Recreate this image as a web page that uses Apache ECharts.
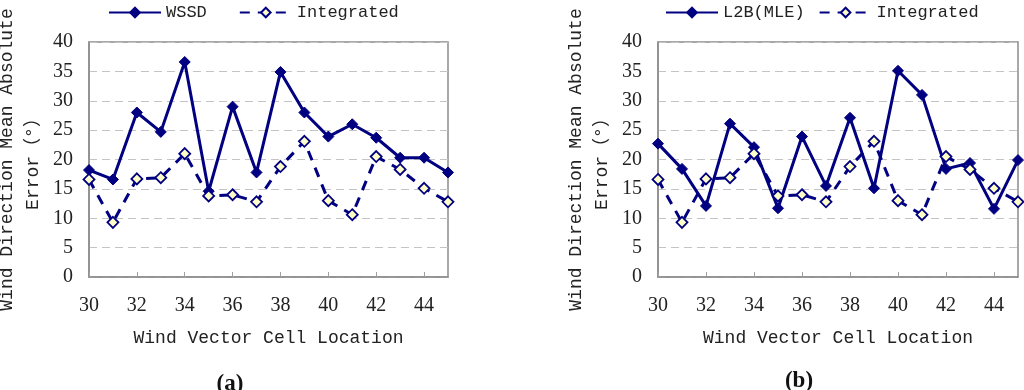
<!DOCTYPE html>
<html>
<head>
<meta charset="utf-8">
<script src="https://cdn.jsdelivr.net/npm/echarts@6/dist/echarts.min.js"></script>
<style>
html,body{margin:0;padding:0;background:#fff;}
#chart{width:1024px;height:390px;}
</style>
</head>
<body>
<div id="chart"></div>
<script>
const cells = ['30','31','32','33','34','35','36','37','38','39','40','41','42','43','44','45'];
const wssd = [18.2,16.6,28.0,24.7,36.6,14.6,29.0,17.8,34.9,28.0,23.9,26.0,23.7,20.3,20.3,17.8];
const integrated = [16.6,9.3,16.7,16.9,21.0,13.8,14.0,12.8,18.8,23.1,13.0,10.6,20.5,18.3,15.1,12.8];
const l2b = [22.7,18.4,12.1,26.1,22.1,11.7,23.9,15.5,27.1,15.1,35.1,31.0,18.4,19.4,11.6,19.9];
const panelLabels = ['(a)','(b)'];
const xName = 'Wind Vector Cell Location';
const yName = 'Wind Direction Mean Absolute\nError（°）';

const NAVY = '#000080';
const MONO = '"Liberation Mono", "Noto Sans CJK SC", monospace';
const SERIF = '"Liberation Serif", serif';

function xAxis(gi){
  return {
    type:'category', gridIndex:gi, data:cells, boundaryGap:false,
    axisLine:{lineStyle:{color:'#8c8c8c', width:1.5}},
    axisTick:{show:true, inside:true, interval:1, length:5, lineStyle:{color:'#a0a0a0'}},
    axisLabel:{interval:1, margin:19, fontFamily:SERIF, fontSize:20, color:'#222'},
    name:xName, nameLocation:'middle', nameGap:52,
    nameTextStyle:{fontFamily:MONO, fontSize:18, color:'#222'}
  };
}
function yAxis(gi){
  return {
    type:'value', gridIndex:gi, min:0, max:40, interval:5,
    axisLine:{show:true, lineStyle:{color:'#8c8c8c', width:1.5}},
    axisTick:{show:false},
    axisLabel:{margin:16, fontFamily:SERIF, fontSize:20, color:'#222'},
    splitLine:{show:true, lineStyle:{color:'#c4c4c4', type:[8,5], width:1}},
    name:yName, nameLocation:'middle', nameRotate:90, nameGap:43,
    nameTextStyle:{fontFamily:MONO, fontSize:18, color:'#222', lineHeight:26, align:'center'}
  };
}
function solid(name, data, gi){
  return {
    name, type:'line', xAxisIndex:gi, yAxisIndex:gi, data,
    symbol:'diamond', symbolSize:11, clip:false,
    lineStyle:{color:NAVY, width:3},
    itemStyle:{color:NAVY, borderColor:NAVY, borderWidth:1},
    z:2
  };
}
function dashed(name, data, gi){
  return {
    name, type:'line', xAxisIndex:gi, yAxisIndex:gi, data,
    symbol:'diamond', symbolSize:11, clip:false, showSymbol:true,
    lineStyle:{color:NAVY, width:3, type:[10,8]},
    itemStyle:{color:'#ffffc8', borderColor:NAVY, borderWidth:1.8},
    z:3
  };
}

const chart = echarts.init(document.getElementById('chart'), null, {renderer:'canvas'});
chart.setOption({
  animation:false,
  backgroundColor:'#fff',
  title:[
    {text:panelLabels[0], left:225, top:368, textAlign:'center',
     textStyle:{fontFamily:SERIF, fontWeight:'bold', fontSize:23, color:'#111'}},
    {text:panelLabels[1], left:794, top:365, textAlign:'center',
     textStyle:{fontFamily:SERIF, fontWeight:'bold', fontSize:23, color:'#111'}}
  ],
  legend:[
    {data:['WSSD','Integrated'], left:103, top:-1, itemWidth:52, itemHeight:12, itemGap:32,
     textStyle:{fontFamily:MONO, fontSize:17, color:'#222'}},
    {data:['L2B(MLE)','Integrated'], left:660, top:-1, itemWidth:52, itemHeight:12, itemGap:14,
     textStyle:{fontFamily:MONO, fontSize:17, color:'#222'}}
  ],
  grid:[
    {left:89, top:42, width:359, height:235, show:true, borderColor:'#8c8c8c', borderWidth:1.5,
     backgroundColor:'transparent', outerBoundsMode:'none', containLabel:false},
    {left:658, top:42, width:360, height:235, show:true, borderColor:'#8c8c8c', borderWidth:1.5,
     backgroundColor:'transparent', outerBoundsMode:'none', containLabel:false}
  ],
  xAxis:[xAxis(0), xAxis(1)],
  yAxis:[yAxis(0), yAxis(1)],
  series:[
    solid('WSSD', wssd, 0),
    dashed('Integrated', integrated, 0),
    solid('L2B(MLE)', l2b, 1),
    dashed('Integrated', integrated, 1)
  ]
});
</script>
</body>
</html>
